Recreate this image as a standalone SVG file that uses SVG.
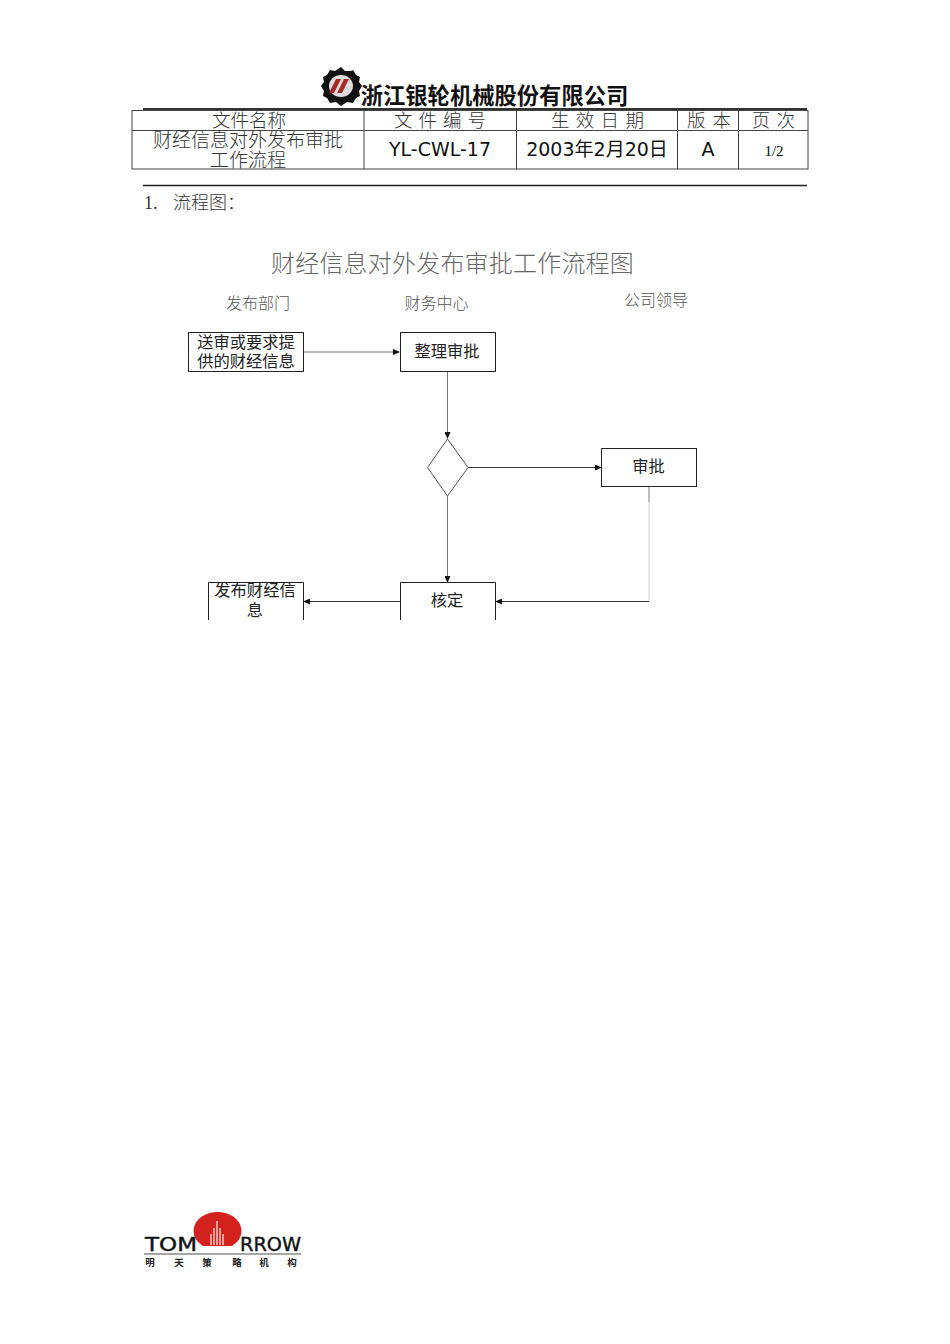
<svg xmlns="http://www.w3.org/2000/svg" width="950" height="1344" viewBox="0 0 950 1344">
<style>
text{font-family:"Noto Sans CJK SC","DejaVu Sans",sans-serif;fill:#222;text-anchor:middle}
.t{font-size:18.500px;fill:#333;font-weight:300}
.d{font-family:"DejaVu Sans","Noto Sans CJK SC",sans-serif;font-size:19px;fill:#111}
.f{font-size:16.300px;fill:#222}
.h{font-size:16px;fill:#555;font-weight:300}
.cn{font-size:9.500px;font-weight:700;fill:#222}
.lg{font-family:"DejaVu Sans",sans-serif;font-size:19px;fill:#111;stroke:#111;stroke-width:.4}
.grid{stroke:#444;stroke-width:1;fill:none}
.box{fill:#fff;stroke:#222;stroke-width:1}
.c{fill:none;stroke:#333;stroke-width:1}
.g{stroke:#777}
.p{stroke:#d0d0d0}
</style>
<defs>
<marker id="a" markerWidth="7" markerHeight="6" refX="6" refY="3" orient="auto" markerUnits="userSpaceOnUse"><path d="M0 0L7 3L0 6Z" fill="#111"/></marker>
</defs>
<rect width="950" height="1344" fill="#fff"/>
<g id="company-logo">
<path d="M341 67l4 4h6l2-1 3 5 4 2-1 5 3 4-3 5 1 5-4 2-3 5-6-1-6 4-5-4-6 1-3-5-4-2 1-5-3-5 3-4-1-5 4-2 3-5 5 1 z" fill="#111"/>
<ellipse cx="341" cy="86" rx="12" ry="11" fill="#ddd"/>
<path d="M329 93l7-14h5l-7 14zM337 93l7-14h5l-7 14z" fill="#a52a2a"/>
</g>
<text x="494.500" y="104" style="font-size:22.300px;font-weight:700;fill:#111">浙江银轮机械股份有限公司</text>
<g id="header-table">
<line x1="143" y1="109" x2="807" y2="109" stroke="#333" stroke-width="2"/>
<rect x="132" y="110.500" width="676" height="58.500" class="grid"/>
<path class="grid" d="M132 130.500H808M364 110V169M516.500 110V169M677.500 110V169M738.500 110V169"/>
<text x="249" y="127" class="t">文件名称</text>
<text x="443" y="127" class="t" style="letter-spacing:6px">文件编号</text>
<text x="600.600" y="127" class="t" style="letter-spacing:6.300px">生效日期</text>
<text x="712.500" y="127" class="t" style="letter-spacing:7px">版本</text>
<text x="776.750" y="127" class="t" style="letter-spacing:6.500px">页次</text>
<text class="t" style="font-size:19px"><tspan x="248" y="147">财经信息对外发布审批</tspan><tspan x="248" y="166.500">工作流程</tspan></text>
<text x="440" y="156" class="d">YL-CWL-17</text>
<text x="597" y="156" class="d">2003年2月20日</text>
<text x="708" y="156" class="d">A</text>
<text x="774" y="156" style="font-family:'Liberation Serif',serif;font-size:15px;fill:#111">1/2</text>
</g>
<line x1="143" y1="185.500" x2="807" y2="185.500" stroke="#222" stroke-width="1.500"/>
<text x="144" y="209" class="t" style="text-anchor:start;font-size:18px;font-family:'Liberation Serif','Noto Sans CJK SC',serif">1.</text>
<text x="173" y="209" class="t" style="text-anchor:start;font-size:18px">流程图：</text>
<text x="452.500" y="272" style="font-size:24px;fill:#666;font-weight:300;letter-spacing:.2px">财经信息对外发布审批工作流程图</text>
<text x="258" y="309" class="h">发布部门</text>
<text x="436.500" y="309" class="h">财务中心</text>
<text x="656" y="306" class="h">公司领导</text>
<g id="connectors">
<path class="c g" d="M304 352H399" marker-end="url(#a)"/>
<path class="c g" d="M447.500 372V438" marker-end="url(#a)"/>
<path class="c" d="M468 467.500H601" marker-end="url(#a)"/>
<path class="c g" d="M447.500 496V582" marker-end="url(#a)"/>
<path class="c g" d="M649 487V502"/>
<path class="c p" d="M649 502V601.500"/>
<path class="c" d="M649 601.500H496" marker-end="url(#a)"/>
<path class="c" d="M400 601.500H304" marker-end="url(#a)"/>
</g>
<g id="node-submit">
<rect x="188.500" y="332.500" width="115" height="39" class="box"/>
<text class="f"><tspan x="246" y="347.500">送审或要求提</tspan><tspan x="246" y="367">供的财经信息</tspan></text>
</g>
<g id="node-review">
<rect x="400.500" y="332.500" width="95" height="39" class="box"/>
<text x="447" y="357" class="f">整理审批</text>
</g>
<g id="node-decision">
<path d="M447.500 439L468 467.500L447.500 496L427.500 467.500Z" fill="#fff" stroke="#555"/>
</g>
<g id="node-approve">
<rect x="601.500" y="448.500" width="95" height="38" class="box"/>
<text x="648.500" y="472" class="f">审批</text>
</g>
<g id="node-verify">
<path d="M400.500 620V582.500H495.500V620" class="box"/>
<text x="447" y="606" class="f">核定</text>
</g>
<g id="node-publish">
<path d="M208.500 620V582.500H303.500V620" class="box"/>
<text class="f"><tspan x="255" y="596">发布财经信</tspan><tspan x="255" y="616">息</tspan></text>
</g>
<g id="tomorrow-logo">
<path d="M198 1244A24 19 0 1 1 237 1244L232 1248H203Z" fill="#d3211e" transform="translate(0 -2)"/>
<path d="M211 1245V1234M214 1245V1228M217 1245V1221M220 1245V1228M223 1245V1234" stroke="#f4c6c0" stroke-width="1.500"/>
<text x="171" y="1251" textLength="52" lengthAdjust="spacingAndGlyphs" class="lg">TOM</text>
<text x="270.500" y="1251" textLength="61" lengthAdjust="spacingAndGlyphs" class="lg">RROW</text>
<line x1="144" y1="1254" x2="301" y2="1254" stroke="#888" stroke-width="1.500"/>
<text x="150" y="1266" class="cn">明</text>
<text x="179" y="1266" class="cn">天</text>
<text x="207" y="1266" class="cn">策</text>
<text x="237" y="1266" class="cn">略</text>
<text x="264" y="1266" class="cn">机</text>
<text x="292" y="1266" class="cn">构</text>
</g>
</svg>
